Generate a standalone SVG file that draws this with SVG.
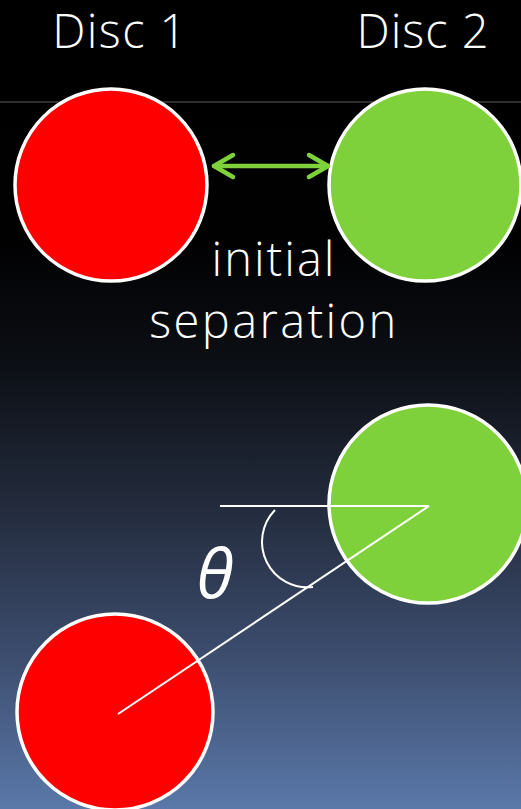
<svg xmlns="http://www.w3.org/2000/svg" width="521" height="809" viewBox="0 0 521 809">
<defs>
<linearGradient id="bg" x1="0" y1="0" x2="0" y2="1">
<stop offset="0" stop-color="#000000"/>
<stop offset="0.3" stop-color="#010102"/>
<stop offset="0.45" stop-color="#0c0f15"/>
<stop offset="0.62" stop-color="#222a3b"/>
<stop offset="0.8" stop-color="#3b4b6b"/>
<stop offset="1" stop-color="#5a78a9"/>
</linearGradient>
<style>
.red{fill:#ff0000;stroke:#ffffff;stroke-width:3.5}
.green{fill:#7fd13b;stroke:#ffffff;stroke-width:3.5}
.lbl{font-family:"Open Sans","Noto Sans",sans-serif;font-weight:300;font-size:47px;fill:#ffffff;letter-spacing:1px}
.w{stroke:#ffffff;stroke-width:2;fill:none}
</style>
</defs>
<rect width="521" height="809" fill="url(#bg)"/>
<line x1="0" y1="102" x2="521" y2="102" stroke="#5a5a5a" stroke-width="1"/>
<g id="disc1-top"><circle class="red" cx="111" cy="185" r="96"/></g>
<g id="disc2-top"><circle class="green" cx="425" cy="185" r="96"/></g>
<g id="disc2-bottom"><circle class="green" cx="428" cy="504" r="99"/></g>
<g id="disc1-bottom"><circle class="red" cx="115" cy="712" r="98"/></g>
<g id="labels">
<text class="lbl" x="120" y="48" text-anchor="middle" style="letter-spacing:1.4px">Disc 1</text>
<text class="lbl" x="423" y="48" text-anchor="middle">Disc 2</text>
<text class="lbl" x="274" y="276" text-anchor="middle" style="letter-spacing:2px">initial</text>
<text class="lbl" x="274" y="338" text-anchor="middle" style="letter-spacing:2.4px">separation</text>
<text x="215" y="598" text-anchor="middle" font-family="'Open Sans','Noto Sans',sans-serif" font-style="italic" font-size="68" fill="#ffffff">θ</text>
</g>
<g id="connectors">
<g stroke="#7fd13b" stroke-width="4.5" fill="none" stroke-linecap="round" stroke-linejoin="round">
<line x1="214" y1="166" x2="328" y2="166"/>
<polyline points="233,155 214,166 233,177"/>
<polyline points="309,155 328,166 309,177"/>
</g>
<line class="w" x1="220" y1="506" x2="429" y2="506"/>
<line class="w" x1="429" y1="506" x2="118" y2="714"/>
<path class="w" stroke-width="3" d="M275,510 A45.5,45.5 0 0,0 313,587"/>
</g>
</svg>
